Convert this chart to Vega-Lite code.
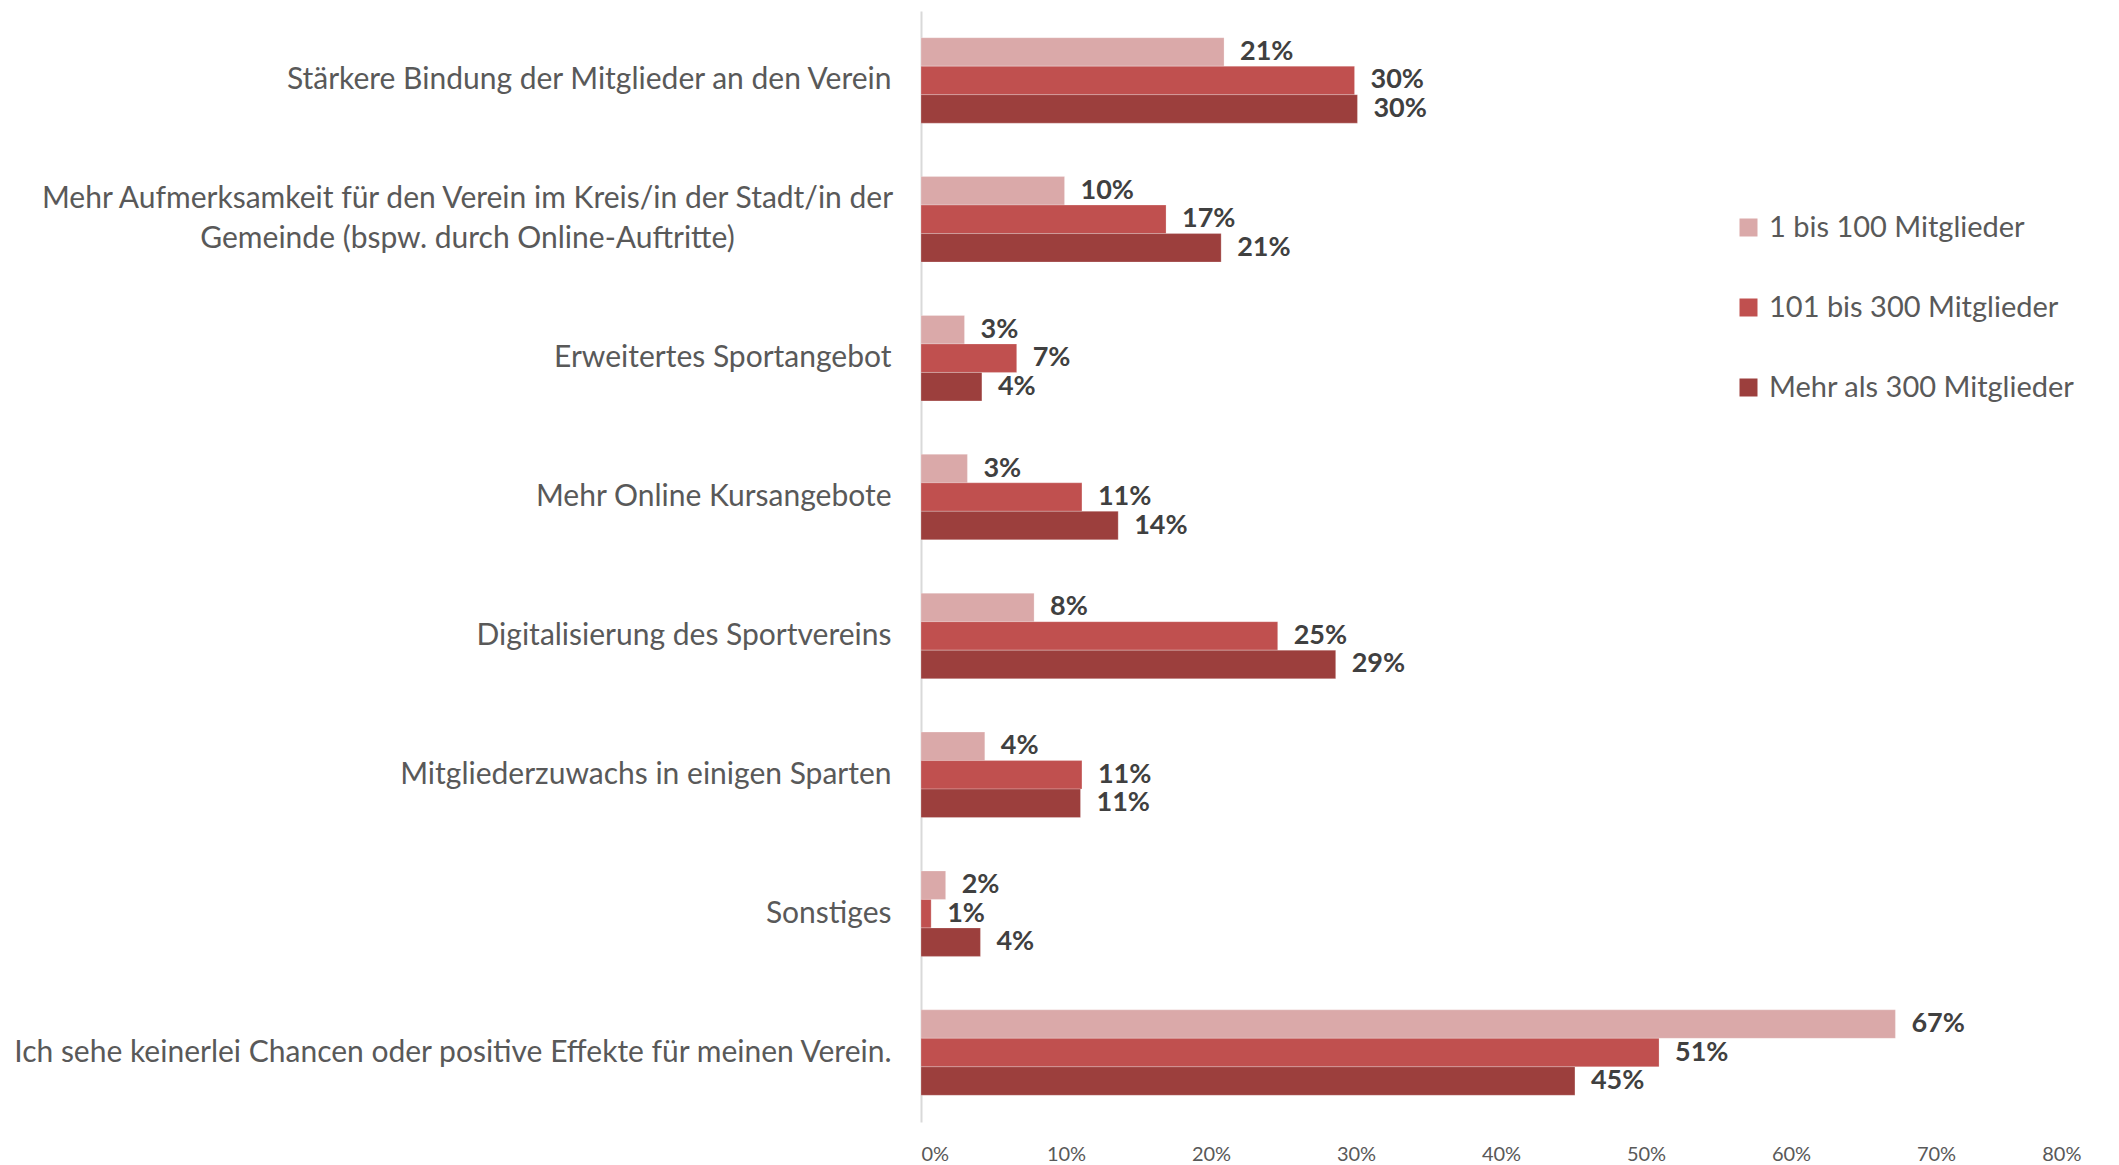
{
  "$schema": "https://vega.github.io/schema/vega-lite/v6.json",
  "width": 1160,
  "height": 1111,
  "autosize": {"type": "none"},
  "padding": {"left": 921, "top": 11, "right": 38, "bottom": 43},
  "background": "white",
  "config": {"view": {"stroke": null}, "font": "Lato"},
  "data": {
    "values": [
      {"cat": "Stärkere Bindung der Mitglieder an den Verein", "group": "1 bis 100 Mitglieder", "value": 0.209},
      {"cat": "Stärkere Bindung der Mitglieder an den Verein", "group": "101 bis 300 Mitglieder", "value": 0.299},
      {"cat": "Stärkere Bindung der Mitglieder an den Verein", "group": "Mehr als 300 Mitglieder", "value": 0.301},
      {"cat": "Mehr Aufmerksamkeit für den Verein im Kreis/in der Stadt/in der Gemeinde (bspw. durch Online-Auftritte)", "group": "1 bis 100 Mitglieder", "value": 0.099},
      {"cat": "Mehr Aufmerksamkeit für den Verein im Kreis/in der Stadt/in der Gemeinde (bspw. durch Online-Auftritte)", "group": "101 bis 300 Mitglieder", "value": 0.169},
      {"cat": "Mehr Aufmerksamkeit für den Verein im Kreis/in der Stadt/in der Gemeinde (bspw. durch Online-Auftritte)", "group": "Mehr als 300 Mitglieder", "value": 0.207},
      {"cat": "Erweitertes Sportangebot", "group": "1 bis 100 Mitglieder", "value": 0.030},
      {"cat": "Erweitertes Sportangebot", "group": "101 bis 300 Mitglieder", "value": 0.066},
      {"cat": "Erweitertes Sportangebot", "group": "Mehr als 300 Mitglieder", "value": 0.042},
      {"cat": "Mehr Online Kursangebote", "group": "1 bis 100 Mitglieder", "value": 0.032},
      {"cat": "Mehr Online Kursangebote", "group": "101 bis 300 Mitglieder", "value": 0.111},
      {"cat": "Mehr Online Kursangebote", "group": "Mehr als 300 Mitglieder", "value": 0.136},
      {"cat": "Digitalisierung des Sportvereins", "group": "1 bis 100 Mitglieder", "value": 0.078},
      {"cat": "Digitalisierung des Sportvereins", "group": "101 bis 300 Mitglieder", "value": 0.246},
      {"cat": "Digitalisierung des Sportvereins", "group": "Mehr als 300 Mitglieder", "value": 0.286},
      {"cat": "Mitgliederzuwachs in einigen Sparten", "group": "1 bis 100 Mitglieder", "value": 0.044},
      {"cat": "Mitgliederzuwachs in einigen Sparten", "group": "101 bis 300 Mitglieder", "value": 0.111},
      {"cat": "Mitgliederzuwachs in einigen Sparten", "group": "Mehr als 300 Mitglieder", "value": 0.110},
      {"cat": "Sonstiges", "group": "1 bis 100 Mitglieder", "value": 0.017},
      {"cat": "Sonstiges", "group": "101 bis 300 Mitglieder", "value": 0.007},
      {"cat": "Sonstiges", "group": "Mehr als 300 Mitglieder", "value": 0.041},
      {"cat": "Ich sehe keinerlei Chancen oder positive Effekte für meinen Verein.", "group": "1 bis 100 Mitglieder", "value": 0.672},
      {"cat": "Ich sehe keinerlei Chancen oder positive Effekte für meinen Verein.", "group": "101 bis 300 Mitglieder", "value": 0.509},
      {"cat": "Ich sehe keinerlei Chancen oder positive Effekte für meinen Verein.", "group": "Mehr als 300 Mitglieder", "value": 0.451}
    ]
  },
  "encoding": {
    "y": {
      "field": "cat",
      "type": "nominal",
      "sort": null,
      "title": null,
      "scale": {"paddingInner": 0.385, "paddingOuter": 0.1925},
      "axis": {
        "domainColor": "#d9d9d9",
        "domainWidth": 2,
        "ticks": false,
        "labelPadding": {"condition": {"test": "length(datum.value) > 80", "value": 454}, "value": 30},
        "labelAlign": {"condition": {"test": "length(datum.value) > 80", "value": "center"}, "value": "right"},
        "labelOffset": {"condition": {"test": "length(datum.value) > 80", "value": -20}, "value": 0},
        "labelFont": "Lato",
        "labelFontSize": 30,
        "labelColor": "#595959",
        "labelLimit": 1200,
        "labelLineHeight": 40,
        "labelExpr": "length(datum.label) > 80 ? ['Mehr Aufmerksamkeit für den Verein im Kreis/in der Stadt/in der', 'Gemeinde (bspw. durch Online-Auftritte)'] : datum.label"
      }
    },
    "yOffset": {
      "field": "group",
      "type": "nominal",
      "sort": ["1 bis 100 Mitglieder", "101 bis 300 Mitglieder", "Mehr als 300 Mitglieder"],
      "scale": {"paddingInner": 0, "paddingOuter": 0}
    },
    "x": {
      "field": "value",
      "type": "quantitative",
      "title": null,
      "scale": {"domain": [0, 0.8], "nice": false},
      "axis": {
        "values": [0, 0.1, 0.2, 0.3, 0.4, 0.5, 0.6, 0.7, 0.8],
        "format": ".0%",
        "domain": false,
        "ticks": false,
        "grid": false,
        "labelFont": "Lato",
        "labelFontSize": 20,
        "labelColor": "#595959",
        "labelPadding": 22
      }
    }
  },
  "layer": [
    {
      "mark": {"type": "bar", "stroke": "white", "strokeWidth": 0.6, "strokeOpacity": 0.4},
      "encoding": {
        "color": {
          "field": "group",
          "type": "nominal",
          "sort": ["1 bis 100 Mitglieder", "101 bis 300 Mitglieder", "Mehr als 300 Mitglieder"],
          "scale": {"domain": ["1 bis 100 Mitglieder", "101 bis 300 Mitglieder", "Mehr als 300 Mitglieder"], "range": ["#DAA9A9", "#C0504F", "#9C3F3D"]},
          "legend": {
            "title": null,
            "orient": "none",
            "legendX": 813,
            "legendY": 202,
            "symbolType": "square",
            "symbolSize": 324,
            "symbolStrokeWidth": 0,
            "labelFont": "Lato",
            "labelFontSize": 29,
            "labelColor": "#595959",
            "rowPadding": 50,
            "labelOffset": 6,
            "labelLimit": 500
          }
        }
      }
    },
    {
      "mark": {"type": "text", "align": "left", "baseline": "middle", "dx": 16, "font": "Lato", "fontSize": 27, "fontWeight": "bold", "color": "#404040"},
      "encoding": {
        "text": {"field": "value", "type": "quantitative", "format": ".0%"}
      }
    }
  ]
}
